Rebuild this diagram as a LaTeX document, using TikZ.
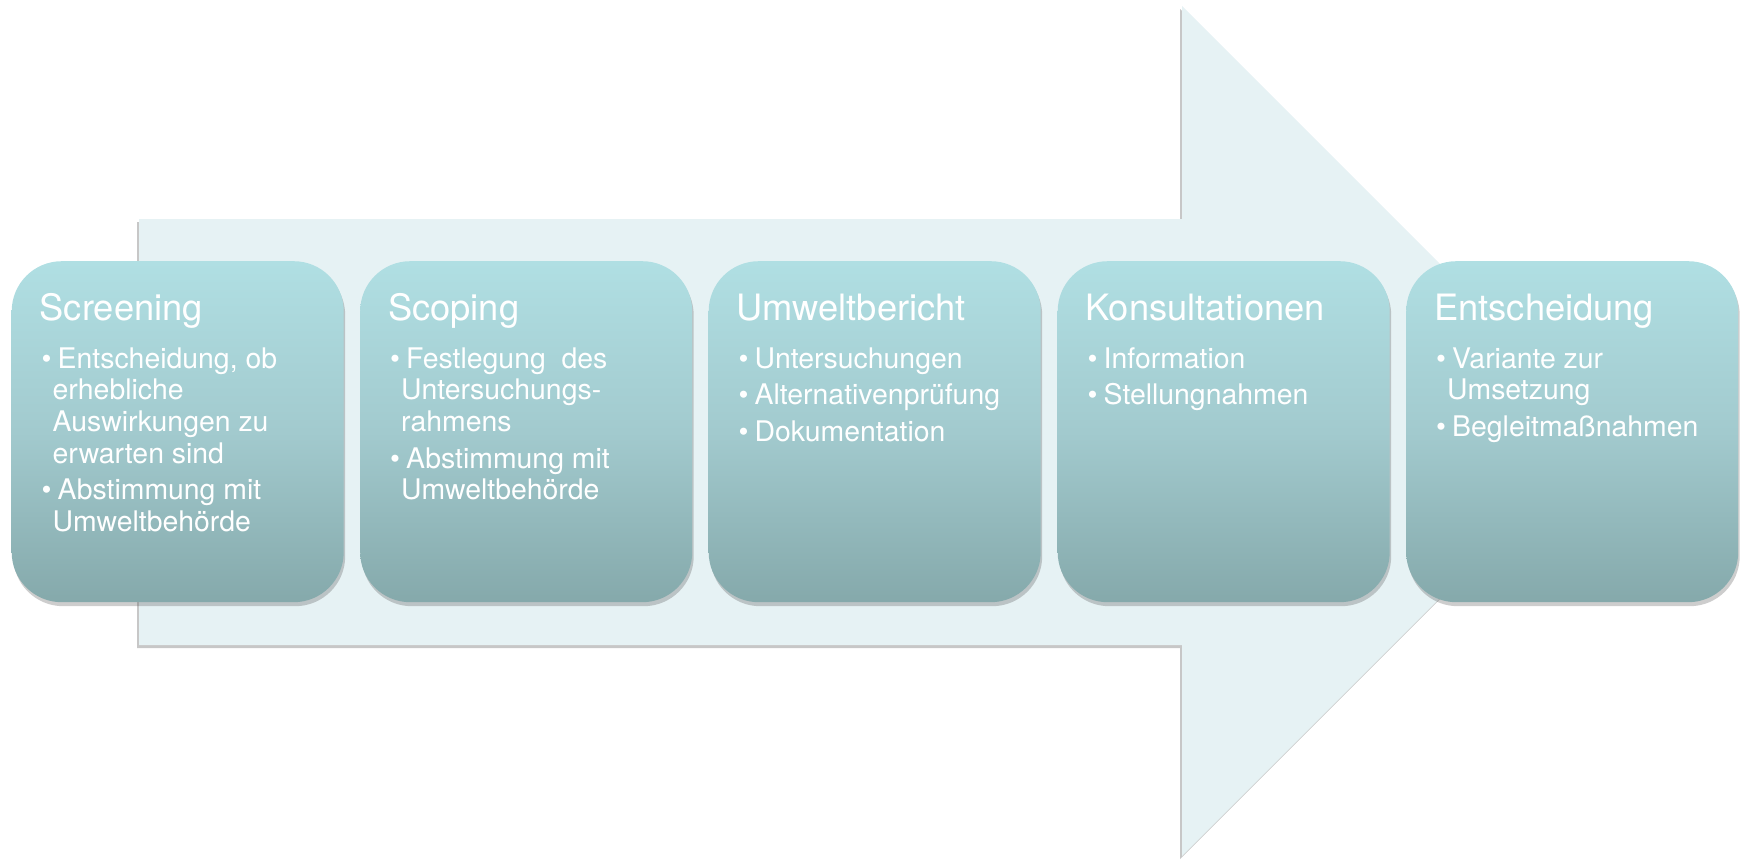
\documentclass[tikz,border=0pt]{standalone}
\usepackage{fontspec}
\setmainfont{TeX Gyre Heros}
\usetikzlibrary{shadows}
\definecolor{arrowfill}{RGB}{230,242,244}
\definecolor{boxtop}{RGB}{176,223,227}
\definecolor{boxmid}{RGB}{162,202,206}
\definecolor{boxbot}{RGB}{133,169,171}
\newcommand{\bul}{\makebox[16pt][l]{•}}
\begin{document}
\begin{tikzpicture}[x=1pt,y=-1pt,
  stagebox/.style={draw=none, rounded corners=50pt, minimum width=332pt, minimum height=341pt,
    anchor=north west, inner sep=0pt, top color=boxtop, bottom color=boxbot, middle color=boxmid,
    drop shadow={shadow xshift=1.5pt, shadow yshift=-4pt, opacity=0.28, fill=black!70}},
  stagetitle/.style={anchor=base west, inner sep=0pt, text=white, font=\fontsize{36.3}{40}\selectfont},
  bodyline/.style={anchor=base west, inner sep=0pt, text=white, font=\fontsize{28.4}{31.7}\selectfont}]
\useasboundingbox (0,0) rectangle (1743,862);
% background arrow
\fill[black, opacity=0.22, xshift=-2pt, yshift=-3pt] (139,219) -- (1182,219) -- (1182,6) -- (1607,431) -- (1182,856) -- (1182,645) -- (139,645) -- cycle;
\fill[arrowfill] (139,219) -- (1182,219) -- (1182,6) -- (1607,431) -- (1182,856) -- (1182,645) -- (139,645) -- cycle;
% boxes
\node[stagebox] (b1) at (11.5,261) {};
\node[stagebox] (b2) at (360,261) {};
\node[stagebox] (b3) at (708.5,261) {};
\node[stagebox] (b4) at (1057.5,261) {};
\node[stagebox] (b5) at (1406,261) {};
% titles
\node[stagetitle] (t1) at ([xshift=28pt,yshift=-59pt]b1.north west) {Screening};
\node[stagetitle] (t2) at ([xshift=28pt,yshift=-59pt]b2.north west) {Scoping};
\node[stagetitle] (t3) at ([xshift=28pt,yshift=-59pt]b3.north west) {Umweltbericht};
\node[stagetitle] (t4) at ([xshift=28pt,yshift=-59pt]b4.north west) {Konsultationen};
\node[stagetitle] (t5) at ([xshift=28pt,yshift=-59pt]b5.north west) {Entscheidung};
% box 1
\node[bodyline] (l1a) at ([xshift=30pt,yshift=-107pt]b1.north west) {\bul Entscheidung, ob};
\node[bodyline] (l1b) at ([xshift=41pt,yshift=-138.7pt]b1.north west) {erhebliche};
\node[bodyline] (l1c) at ([xshift=41pt,yshift=-170.4pt]b1.north west) {Auswirkungen zu};
\node[bodyline] (l1d) at ([xshift=41pt,yshift=-202.1pt]b1.north west) {erwarten sind};
\node[bodyline] (l1e) at ([xshift=30pt,yshift=-238.8pt]b1.north west) {\bul Abstimmung mit};
\node[bodyline] (l1f) at ([xshift=41pt,yshift=-270.5pt]b1.north west) {Umweltbehörde};
% box 2
\node[bodyline] (l2a) at ([xshift=30pt,yshift=-107pt]b2.north west) {\bul Festlegung\ \ des};
\node[bodyline] (l2b) at ([xshift=41pt,yshift=-138.7pt]b2.north west) {Untersuchungs-};
\node[bodyline] (l2c) at ([xshift=41pt,yshift=-170.4pt]b2.north west) {rahmens};
\node[bodyline] (l2d) at ([xshift=30pt,yshift=-207.1pt]b2.north west) {\bul Abstimmung mit};
\node[bodyline] (l2e) at ([xshift=41pt,yshift=-238.8pt]b2.north west) {Umweltbehörde};
% box 3
\node[bodyline] (l3a) at ([xshift=30pt,yshift=-107pt]b3.north west) {\bul Untersuchungen};
\node[bodyline] (l3b) at ([xshift=30pt,yshift=-143.7pt]b3.north west) {\bul Alternativenprüfung};
\node[bodyline] (l3c) at ([xshift=30pt,yshift=-180.4pt]b3.north west) {\bul Dokumentation};
% box 4
\node[bodyline] (l4a) at ([xshift=30pt,yshift=-107pt]b4.north west) {\bul Information};
\node[bodyline] (l4b) at ([xshift=30pt,yshift=-143.7pt]b4.north west) {\bul Stellungnahmen};
% box 5
\node[bodyline] (l5a) at ([xshift=30pt,yshift=-107pt]b5.north west) {\bul Variante zur};
\node[bodyline] (l5b) at ([xshift=41pt,yshift=-138.7pt]b5.north west) {Umsetzung};
\node[bodyline] (l5c) at ([xshift=30pt,yshift=-175.4pt]b5.north west) {\bul Begleitmaßnahmen};
\end{tikzpicture}
\end{document}
